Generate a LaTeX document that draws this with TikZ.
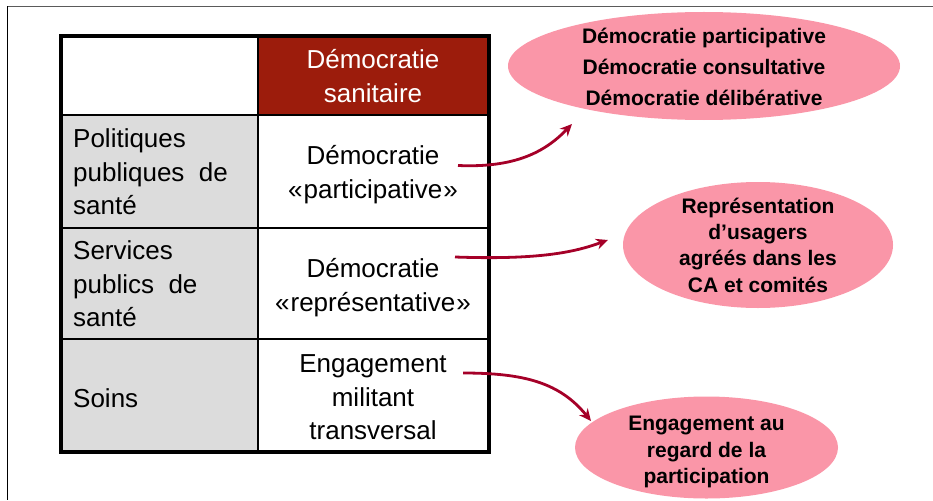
\documentclass[tikz,border=0pt]{standalone}
\usepackage{fontspec}
\setmainfont{Liberation Sans}
\usetikzlibrary{shapes.geometric,arrows.meta}
\definecolor{hdrred}{RGB}{156,28,12}
\definecolor{cellgray}{RGB}{220,220,220}
\definecolor{elpink}{RGB}{250,150,168}
\definecolor{arrred}{RGB}{165,0,40}
\definecolor{framegray}{RGB}{90,90,90}
\tikzset{
  celltext/.style={inner sep=0pt, font=\fontsize{26}{33.5}\selectfont, text=black},
  lefttext/.style={celltext, align=left},
  midtext/.style={celltext, align=center},
  blob/.style={ellipse, fill=elpink, draw=none, inner sep=0pt},
  blobtext/.style={inner sep=0pt, align=center, font=\fontsize{21}{26.3}\selectfont\bfseries},
  link/.style={draw=arrred, line width=2.8pt, -{Stealth[length=12pt,width=11pt]}},
  thinrule/.style={line width=2pt, draw=black},
  thickrule/.style={line width=4pt, draw=black},
}
\begin{document}
\begin{tikzpicture}[x=1pt,y=-1pt]
\useasboundingbox (0,0) rectangle (933,500);
% frame
\draw[framegray, line width=1.6pt] (7,6.5) -- (933,6.5);
\draw[black, line width=1pt] (7,6.5) -- (7,500);
% table fills
\fill[hdrred] (258,36) rectangle (488.7,115);
\fill[cellgray] (61.3,115) rectangle (258,451.7);
% table rules
\draw[thinrule] (258.3,36) -- (258.3,451.7);
\draw[thinrule] (61.3,115) -- (488.7,115);
\draw[thinrule] (61.3,228.3) -- (488.7,228.3);
\draw[thinrule] (61.3,339.3) -- (488.7,339.3);
\draw[thickrule] (61.3,36) rectangle (488.7,451.7);
% header
\node[midtext, text=white] (hdr) at (373,76) {Démocratie\\sanitaire};
% left column
\node[lefttext, anchor=west] (pol) at (73,172) {Politiques\\publiques\ \ de\\santé};
\node[lefttext, anchor=west] (ser) at (73,284) {Services\\publics\ \ de\\santé};
\node[celltext, anchor=base west] (soi) at (73,407) {Soins};
% right column
\node[midtext] (dpart) at (373,174.7) {Démocratie\\«\kern1pt participative\kern1pt»};
\node[midtext] (drep) at (373,287.7) {Démocratie\\«\kern1pt représentative\kern1pt»};
\node[midtext] (eng) at (373,397.5) {Engagement\\militant\\transversal};
% ellipses
\node[blob, minimum width=392pt, minimum height=108pt] (e1) at (704,66) {};
\node[blobtext, font=\fontsize{21}{31}\selectfont\bfseries] (t1) at (704,67) {Démocratie participative\\Démocratie consultative\\Démocratie délibérative};
\node[blob, minimum width=270pt, minimum height=126pt] (e2) at (758,245) {};
\node[blobtext] (t2) at (758,245) {Représentation\\d’usagers\\agréés dans les\\CA et comités};
\node[blob, minimum width=263pt, minimum height=102pt] (e3) at (706.5,447.5) {};
\node[blobtext] (t3) at (706.5,452) {Engagement au\\regard de la\\participation};
% connectors
\coordinate (a1s) at (458,165.5);
\coordinate (a1e) at (572,124);
\coordinate (a2s) at (455,257);
\coordinate (a2e) at (608,240);
\coordinate (a3s) at (463,373);
\coordinate (a3e) at (591,421);
\draw[link] (a1s) .. controls (515,168) and (545,152) .. (a1e);
\draw[link] (a2s) .. controls (540,260) and (575,252) .. (a2e);
\draw[link] (a3s) .. controls (525,373) and (560,383) .. (a3e);
\end{tikzpicture}
\end{document}
